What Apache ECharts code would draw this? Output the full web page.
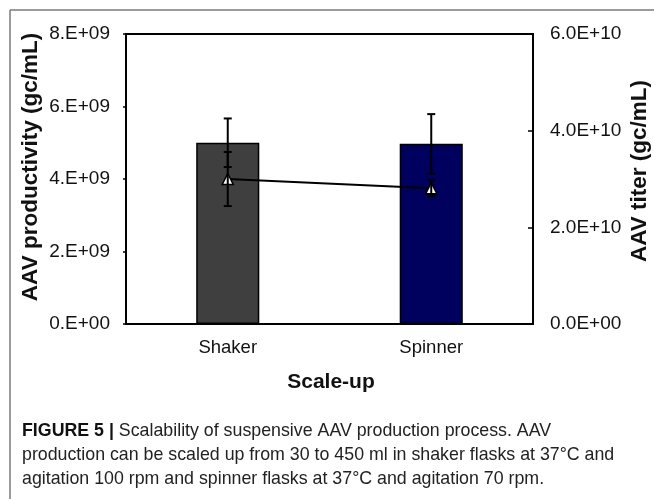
<!DOCTYPE html>
<html>
<head>
<meta charset="utf-8">
<script src="https://cdn.jsdelivr.net/npm/echarts@6/dist/echarts.min.js"></script>
<style>
html,body{margin:0;padding:0;background:#fff;}
#chart{width:654px;height:499px;}
</style>
</head>
<body>
<div id="chart"></div>
<script>
const categories = ['Shaker', 'Spinner'];
const productivity = [5.0e9, 4.97e9];
const productivityErr = [0.67e9, 0.82e9];
const titer = [3.0e10, 2.81e10];
const titerErr = [0.56e10, 0.17e10];
const barColors = ['#3f3f3f', '#00005e'];

const FONT = '"Liberation Sans", Arial, sans-serif';
const chart = echarts.init(document.getElementById('chart'));

function errRender() {
  return function (params, api) {
    const x = api.value(0);
    const hi = api.coord([x, api.value(1) + api.value(2)]);
    const lo = api.coord([x, api.value(1) - api.value(2)]);
    const cx = hi[0];
    const w = 4;
    const st = { stroke: '#000', lineWidth: 2 };
    return {
      type: 'group',
      children: [
        { type: 'line', shape: { x1: cx, y1: hi[1], x2: cx, y2: lo[1] }, style: st },
        { type: 'line', shape: { x1: cx - w, y1: hi[1], x2: cx + w, y2: hi[1] }, style: st },
        { type: 'line', shape: { x1: cx - w, y1: lo[1], x2: cx + w, y2: lo[1] }, style: st }
      ]
    };
  };
}

const option = {
  animation: false,
  backgroundColor: '#fff',
  grid: { left: 126, right: 121, top: 34, bottom: 175, show: true, borderColor: '#000', borderWidth: 2, backgroundColor: 'transparent' },
  xAxis: {
    type: 'category',
    data: categories,
    axisLine: { lineStyle: { color: '#000', width: 2 } },
    axisTick: { show: false },
    axisLabel: { color: '#111', fontFamily: FONT, fontSize: 18.5, margin: 14 }
  },
  yAxis: [
    {
      type: 'value', min: 0, max: 8e9, interval: 2e9,
      axisLine: { show: true, lineStyle: { color: '#000', width: 2 } },
      axisTick: { show: true, length: 3, lineStyle: { color: '#000', width: 1.5 } },
      splitLine: { show: false },
      axisLabel: { color: '#111', fontFamily: FONT, fontSize: 19, margin: 16,
        formatter: v => (v / 1e9) + '.E+' + (v === 0 ? '00' : '09') }
    },
    {
      type: 'value', min: 0, max: 6e10, interval: 2e10, position: 'right',
      axisLine: { show: true, lineStyle: { color: '#000', width: 2 } },
      axisTick: { show: true, inside: true, length: 5, lineStyle: { color: '#000', width: 1.5 } },
      splitLine: { show: false },
      axisLabel: { color: '#111', fontFamily: FONT, fontSize: 19, margin: 17,
        formatter: v => (v / 1e10).toFixed(1) + 'E+' + (v === 0 ? '00' : '10') }
    }
  ],
  series: [
    {
      type: 'bar',
      barWidth: '31%',
      data: productivity.map((v, i) => ({ value: v, itemStyle: { color: barColors[i] } })),
      itemStyle: { borderColor: '#000', borderWidth: 1.5 },
      z: 2
    },
    {
      type: 'custom',
      yAxisIndex: 0,
      renderItem: errRender(),
      data: productivity.map((v, i) => [i, v, productivityErr[i]]),
      z: 5
    },
    {
      type: 'line',
      yAxisIndex: 1,
      data: titer,
      symbol: 'triangle',
      symbolSize: 11,
      lineStyle: { color: '#000', width: 2 },
      itemStyle: { color: '#fff', borderColor: '#000', borderWidth: 1.5 },
      z: 6
    },
    {
      type: 'custom',
      yAxisIndex: 1,
      renderItem: errRender(),
      data: titer.map((v, i) => [i, v, titerErr[i]]),
      z: 7
    }
  ],
  graphic: [
    { type: 'line', shape: { x1: 10, y1: 10, x2: 654, y2: 10 }, style: { stroke: '#7a7a7a', lineWidth: 1.5 } },
    { type: 'line', shape: { x1: 10, y1: 10, x2: 10, y2: 499 }, style: { stroke: '#7a7a7a', lineWidth: 1.5 } },
    { type: 'text', x: 31, y: 167, rotation: Math.PI / 2,
      style: { text: 'AAV productivity (gc/mL)', fontFamily: FONT, fontSize: 22.5, fontWeight: 'bold', fill: '#111', align: 'center', verticalAlign: 'middle' } },
    { type: 'text', x: 640, y: 171, rotation: Math.PI / 2,
      style: { text: 'AAV titer (gc/mL)', fontFamily: FONT, fontSize: 22.5, fontWeight: 'bold', fill: '#111', align: 'center', verticalAlign: 'middle' } },
    { type: 'text', x: 331, y: 382,
      style: { text: 'Scale-up', fontFamily: FONT, fontSize: 21, fontWeight: 'bold', fill: '#111', align: 'center', verticalAlign: 'middle' } },
    { type: 'text', x: 22, y: 431,
      style: { text: '{b|FIGURE 5 |} Scalability of suspensive AAV production process. AAV', fontFamily: FONT, fontSize: 17.8, fill: '#222', verticalAlign: 'middle',
        rich: { b: { fontFamily: FONT, fontSize: 17.8, fontWeight: 'bold', fill: '#111' } } } },
    { type: 'text', x: 22, y: 455,
      style: { text: 'production can be scaled up from 30 to 450 ml in shaker flasks at 37°C and', fontFamily: FONT, fontSize: 17.8, fill: '#222', verticalAlign: 'middle' } },
    { type: 'text', x: 22, y: 479,
      style: { text: 'agitation 100 rpm and spinner flasks at 37°C and agitation 70 rpm.', fontFamily: FONT, fontSize: 17.8, fill: '#222', verticalAlign: 'middle' } }
  ]
};
chart.setOption(option);
</script>
</body>
</html>
